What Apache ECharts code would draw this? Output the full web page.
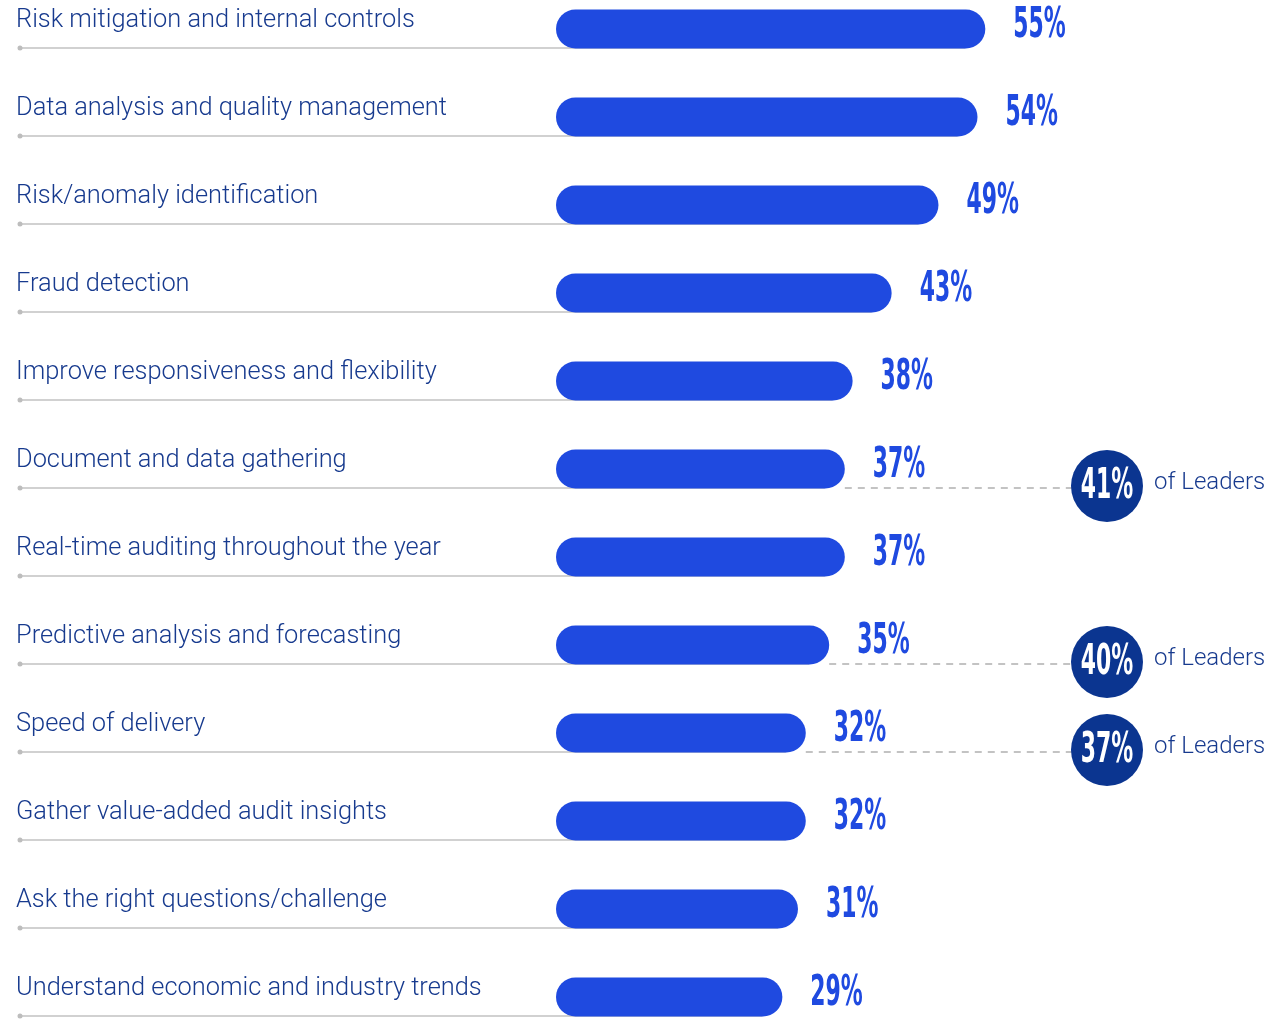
<!DOCTYPE html>
<html><head><meta charset="utf-8">
<script src="https://cdn.jsdelivr.net/npm/echarts/dist/echarts.min.js"></script>
<style>html,body{margin:0;padding:0;background:#fff}#c{width:1287px;height:1030px}</style>
</head><body><div id="c"></div>
<script>
const categories = [
  'Risk mitigation and internal controls',
  'Data analysis and quality management',
  'Risk/anomaly identification',
  'Fraud detection',
  'Improve responsiveness and flexibility',
  'Document and data gathering',
  'Real-time auditing throughout the year',
  'Predictive analysis and forecasting',
  'Speed of delivery',
  'Gather value-added audit insights',
  'Ask the right questions/challenge',
  'Understand economic and industry trends'
];
const values = [55, 54, 49, 43, 38, 37, 37, 35, 32, 32, 31, 29];
const leaderCategories = ['Document and data gathering', 'Predictive analysis and forecasting', 'Speed of delivery'];
const leaderValues = [41, 40, 37];

const NUM_FONT = '"DejaVu Sans Condensed","DejaVu Sans",sans-serif';
const TXT_FONT = 'Roboto,"Noto Sans",sans-serif';
const BLUE = '#1f4ae0';
const NAVY = '#0b3590';
const TEXT = '#173a8e';
const NUM_SCALE = 0.58;

const chart = echarts.init(document.getElementById('c'));

function numText(str, x, y, align, color) {
  return {
    type: 'text', x: x, y: y, scaleX: NUM_SCALE, scaleY: 1,
    style: { text: str, x: 0, y: 0, align: align, verticalAlign: 'middle', fontFamily: NUM_FONT, fontSize: 42, fontWeight: 'bold', fill: color }
  };
}

function rows(params, api) {
  const v = api.value(0), idx = api.value(1);
  const e = api.coord([v, idx]);
  const cy = e[1];
  const lineY = cy + 19;
  return {
    type: 'group',
    children: [
      { type: 'line', shape: { x1: 20, y1: lineY, x2: e[0] - 20, y2: lineY }, style: { stroke: '#c2c2c2', lineWidth: 1.5 } },
      { type: 'circle', shape: { cx: 20, cy: lineY, r: 2.5 }, style: { fill: '#bdbdbd' } },
      { type: 'text', style: { text: categories[idx], x: 16, y: cy - 8, verticalAlign: 'middle', fontFamily: TXT_FONT, fontSize: 25.4, fontWeight: 300, fill: TEXT } }
    ]
  };
}

function labels(params, api) {
  const v = api.value(0), idx = api.value(1);
  const e = api.coord([v, idx]);
  return numText(v + '%', e[0] + 28, e[1] - 3, 'left', BLUE);
}

function leaders(params, api) {
  const v = api.value(0), idx = api.value(1), lv = api.value(2);
  const e = api.coord([v, idx]);
  const cy = e[1] + 17;
  const cx = api.getWidth() - 180;
  return {
    type: 'group',
    children: [
      { type: 'line', shape: { x1: e[0], y1: e[1] + 19, x2: cx - 35, y2: e[1] + 19 }, style: { stroke: '#b0b0b0', lineWidth: 1.3, lineDash: [7, 6] } },
      { type: 'circle', shape: { cx: cx, cy: cy, r: 36 }, style: { fill: NAVY } },
      numText(lv + '%', cx, cy + 1, 'center', '#fff'),
      { type: 'text', style: { text: 'of Leaders', x: cx + 47, y: cy - 3, verticalAlign: 'middle', fontFamily: TXT_FONT, fontSize: 24, fontWeight: 300, fill: TEXT } }
    ]
  };
}

const option = {
  animation: false,
  grid: { left: 556, right: 169, top: 29, bottom: 33 },
  xAxis: { type: 'value', min: 0, max: 72, show: false },
  yAxis: { type: 'category', data: categories, inverse: true, boundaryGap: false, show: false },
  series: [
    {
      type: 'custom', renderItem: rows, z: 1,
      encode: { x: 0, y: 1 },
      data: values.map((v, i) => [v, i])
    },
    {
      type: 'custom', renderItem: leaders, z: 2,
      encode: { x: 0, y: 1 },
      data: leaderCategories.map((c, i) => {
        const idx = categories.indexOf(c);
        return [values[idx], idx, leaderValues[i]];
      })
    },
    {
      type: 'bar', data: values, barWidth: 39, z: 3,
      itemStyle: { color: BLUE, borderRadius: 19.5 }
    },
    {
      type: 'custom', renderItem: labels, z: 4,
      encode: { x: 0, y: 1 },
      data: values.map((v, i) => [v, i])
    }
  ]
};
chart.setOption(option);
</script>
</body></html>
